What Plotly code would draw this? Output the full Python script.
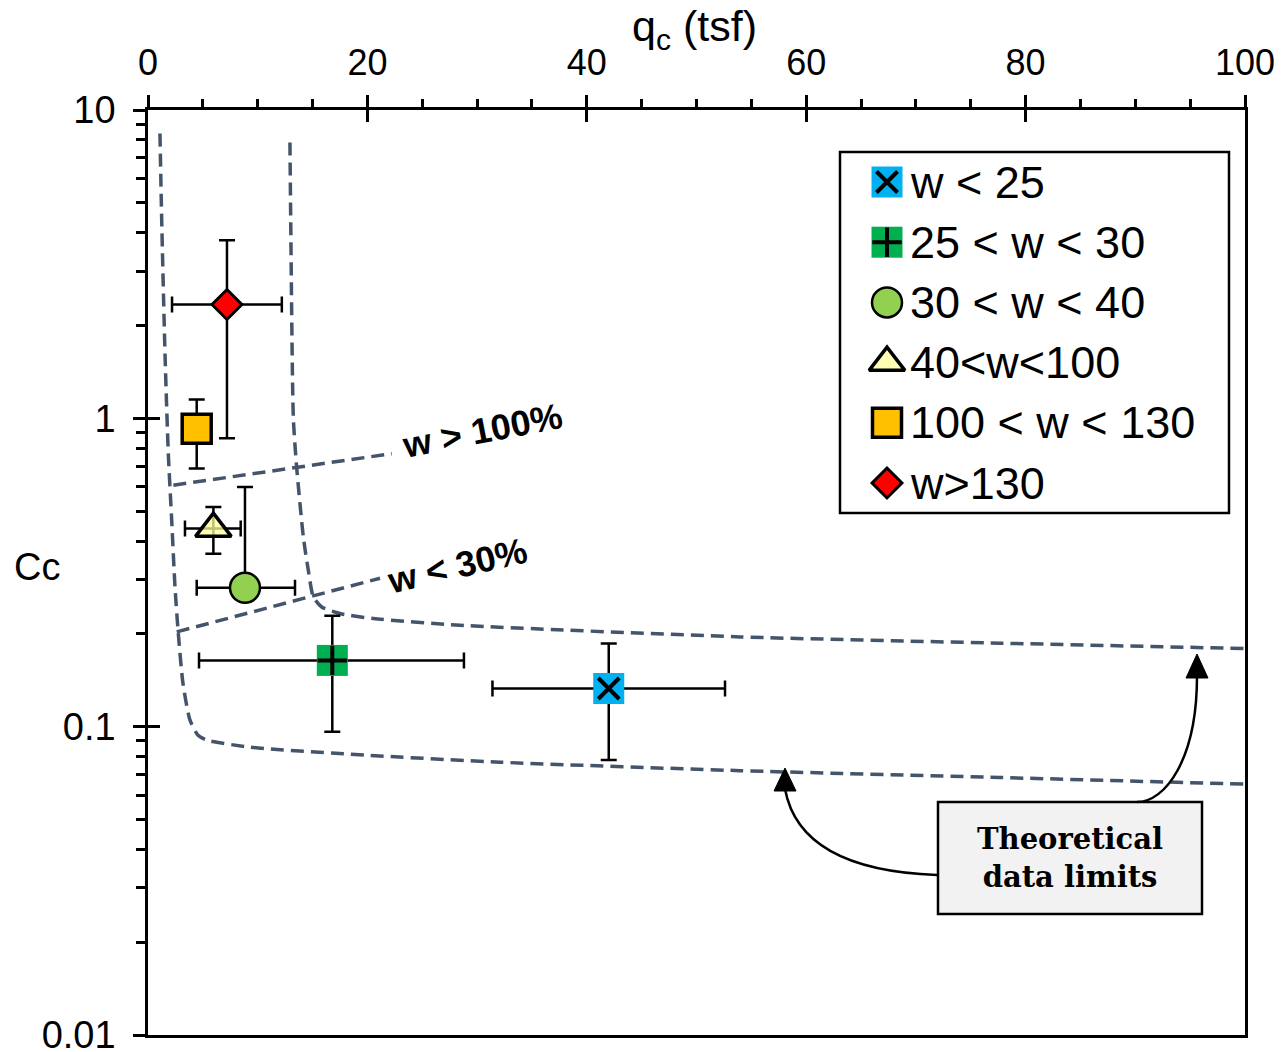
import plotly.graph_objects as go

# ---------------- data ----------------
categories = ["w < 25", "25 < w < 30", "30 < w < 40", "40<w<100", "100 < w < 130", "w>130"]
qc_mean = [42.0, 16.8, 8.84, 5.96, 4.44, 7.2]
qc_low = [31.4, 4.65, 4.44, 3.37, None, 2.19]
qc_high = [52.6, 28.8, 13.4, 8.45, None, 12.2]
cc_mean = [0.133, 0.164, 0.282, 0.439, 0.926, 2.34]
cc_low = [0.0779, 0.0962, 0.26, 0.364, 0.687, 0.861]
cc_high = [0.186, 0.229, 0.599, 0.516, 1.15, 3.78]

# theoretical limit curves
outer_qc = [1.09, 1.25, 1.55, 1.85, 2.16, 2.46, 2.76, 3.19, 3.83, 4.56, 5.38, 9.30, 19.96, 32.09, 53.97, 77.67, 100]
outer_cc = [8.39, 4.38, 1.62, 0.770, 0.467, 0.284, 0.201, 0.138, 0.105, 0.0938, 0.0904, 0.0858, 0.0808, 0.0767, 0.0720, 0.0684, 0.0651]
inner_qc = [12.94, 13.01, 13.25, 13.55, 14.16, 14.61, 15.07, 15.83, 17.50, 20.54, 28.44, 53.97, 77.67, 100]
inner_cc = [7.85, 4.38, 1.0, 0.695, 0.412, 0.322, 0.2635, 0.2445, 0.2328, 0.2242, 0.2133, 0.1955, 0.1866, 0.1792]
w100_qc = [2.31, 22.22]
w100_cc = [0.607, 0.768]
w30_qc = [2.62, 21.15]
w30_cc = [0.203, 0.303]

x_ticks = [0, 20, 40, 60, 80, 100]
y_ticks = [0.01, 0.1, 1, 10]
y_ticktext = ["0.01", "0.1", "1", "10"]
y_minor = [m * d for d in (0.01, 0.1, 1) for m in range(2, 10)]

# ---------------- styles ----------------
styles = [
    dict(symbol="square", size=31, color="#00b0f0", lw=0, lc="#00b0f0", over="x-thin-open", osize=21),
    dict(symbol="square", size=31, color="#00b050", lw=0, lc="#00b050", over="cross-thin-open", osize=21),
    dict(symbol="circle", size=30, color="#92d050", lw=2.5, lc="black", over=None, osize=0),
    dict(symbol="triangle-up", size=31, color="rgba(255,255,153,0.75)", lw=3.5, lc="black", over=None, osize=0),
    dict(symbol="square", size=29, color="#ffc000", lw=3.5, lc="black", over=None, osize=0),
    dict(symbol="diamond", size=23, color="#ff0000", lw=3, lc="black", over=None, osize=0),
]

PL, PR, PT, PB = 148, 1245, 110, 1035
W, H = 1287, 1052


def px(xp):
    return (xp - PL) / (PR - PL)


def py(yp):
    return (PB - yp) / (PB - PT)


fig = go.Figure()

dash_line = dict(color="#44546a", width=3.5, dash="13px,7px")
for xs, ys in [(outer_qc, outer_cc), (inner_qc, inner_cc), (w100_qc, w100_cc), (w30_qc, w30_cc)]:
    fig.add_trace(go.Scatter(x=xs, y=ys, mode="lines", line=dict(dash_line, shape="spline", smoothing=0.6),
                             showlegend=False, hoverinfo="skip"))

for i, name in enumerate(categories):
    st = styles[i]
    ex = None
    if qc_low[i] is not None:
        ex = dict(type="data", symmetric=False, array=[qc_high[i] - qc_mean[i]],
                  arrayminus=[qc_mean[i] - qc_low[i]], color="black", thickness=2.5, width=8)
    ey = dict(type="data", symmetric=False, array=[cc_high[i] - cc_mean[i]],
              arrayminus=[cc_mean[i] - cc_low[i]], color="black", thickness=2.5, width=8)
    fig.add_trace(go.Scatter(x=[qc_mean[i]], y=[cc_mean[i]], mode="markers", name=name,
                             error_x=ex if ex else dict(visible=False), error_y=ey,
                             marker=dict(symbol=st["symbol"], size=st["size"], color=st["color"],
                                         line=dict(width=st["lw"], color=st["lc"])),
                             showlegend=False))
    if st["over"]:
        fig.add_trace(go.Scatter(x=[qc_mean[i]], y=[cc_mean[i]], mode="markers",
                                 marker=dict(symbol=st["over"], size=st["osize"], color="black",
                                             line=dict(width=4, color="black")),
                                 showlegend=False, hoverinfo="skip"))

# dummy trace to activate the crossing-tick overlay axes
fig.add_trace(go.Scatter(x=[None], y=[None], xaxis="x2", yaxis="y2", showlegend=False))

# ---------------- manual legend (overlay axes in paper units) ----------------
leg_x = px(887)
leg_top = py(182)
leg_step = (py(182) - py(483)) / 5
for i, name in enumerate(categories):
    st = styles[i]
    yy = leg_top - i * leg_step
    fig.add_trace(go.Scatter(x=[leg_x], y=[yy], xaxis="x3", yaxis="y3", mode="markers",
                             marker=dict(symbol=st["symbol"], size=st["size"], color=st["color"],
                                         line=dict(width=st["lw"], color=st["lc"])),
                             showlegend=False, hoverinfo="skip", cliponaxis=False))
    if st["over"]:
        fig.add_trace(go.Scatter(x=[leg_x], y=[yy], xaxis="x3", yaxis="y3", mode="markers",
                                 marker=dict(symbol=st["over"], size=st["osize"], color="black",
                                             line=dict(width=4, color="black")),
                                 showlegend=False, hoverinfo="skip", cliponaxis=False))
    fig.add_annotation(x=px(908), y=yy, xref="paper", yref="paper", text=name, showarrow=False,
                       xanchor="left", yanchor="middle", font=dict(size=45, color="black"))

shapes = [
    dict(type="rect", xref="paper", yref="paper", x0=px(840), x1=px(1229), y0=py(513), y1=py(152),
         line=dict(color="black", width=2.5), fillcolor="rgba(0,0,0,0)", layer="above"),
    dict(type="rect", xref="paper", yref="paper", x0=px(938), x1=px(1202), y0=py(914), y1=py(802),
         line=dict(color="black", width=2.5), fillcolor="#f2f2f2", layer="above"),
    dict(type="path", xref="paper", yref="paper",
         path=f"M{px(937)},{py(875)} Q{px(800)},{py(870)} {px(785)},{py(789)}",
         line=dict(color="black", width=2.5)),
    dict(type="path", xref="paper", yref="paper",
         path=f"M{px(1137)},{py(802)} C{px(1165)},{py(802)} {px(1197)},{py(760)} {px(1197)},{py(676)}",
         line=dict(color="black", width=2.5)),
    dict(type="path", xref="paper", yref="paper",
         path=f"M{px(785)},{py(768)} L{px(774)},{py(791)} L{px(796)},{py(791)} Z",
         line=dict(color="black", width=1), fillcolor="black"),
    dict(type="path", xref="paper", yref="paper",
         path=f"M{px(1197)},{py(654)} L{px(1186)},{py(678)} L{px(1208)},{py(678)} Z",
         line=dict(color="black", width=1), fillcolor="black"),
]

annotations_extra = [
    dict(x=px(694), y=py(29), xref="paper", yref="paper", text="q<sub>c</sub> (tsf)", showarrow=False,
         xanchor="center", yanchor="middle", font=dict(size=43, color="black")),
    dict(x=px(37), y=py(567), xref="paper", yref="paper", text="Cc", showarrow=False,
         xanchor="center", yanchor="middle", font=dict(size=38, color="black")),
    dict(x=px(1070), y=py(858), xref="paper", yref="paper", text="<b>Theoretical<br>data limits</b>",
         showarrow=False, xanchor="center", yanchor="middle",
         font=dict(size=29, color="black", family="DejaVu Serif")),
    dict(x=px(482), y=py(430), xref="paper", yref="paper", text="<b>w > 100%</b>", showarrow=False,
         xanchor="center", yanchor="middle", textangle=-11, font=dict(size=36, color="black")),
    dict(x=px(457), y=py(565), xref="paper", yref="paper", text="<b>w < 30%</b>", showarrow=False,
         xanchor="center", yanchor="middle", textangle=-13, font=dict(size=36, color="black")),
]
for a in annotations_extra:
    fig.add_annotation(**a)

axis_common = dict(showgrid=False, zeroline=False, linecolor="black", linewidth=2.5,
                   tickcolor="black", tickwidth=2.5, automargin=False, ticklabeloverflow="allow")

fig.update_layout(
    width=W, height=H,
    margin=dict(l=PL, r=W - PR, t=PT, b=H - PB, autoexpand=False),
    paper_bgcolor="white", plot_bgcolor="white",
    font=dict(family="Arial, Liberation Sans, sans-serif", color="black"),
    showlegend=False,
    shapes=shapes,
    xaxis=dict(axis_common, side="top", range=[0, 100], tickvals=x_ticks, ticks="outside", ticklen=12,
               showline=True, mirror=True, tickfont=dict(size=36), ticklabelstandoff=6,
               minor=dict(dtick=5, tick0=0, ticks="outside", ticklen=8, tickwidth=2.5, tickcolor="black")),
    yaxis=dict(axis_common, type="log", range=[-2, 1], tickvals=y_ticks, ticktext=y_ticktext,
               ticks="outside", ticklen=12, showline=True, mirror=True, tickfont=dict(size=38),
               ticklabelstandoff=10,
               minor=dict(tickvals=y_minor, ticks="outside", ticklen=9, tickwidth=2.5, tickcolor="black")),
    xaxis2=dict(overlaying="x", side="top", range=[0, 100], tickvals=x_ticks, ticks="inside", ticklen=12,
                tickwidth=2.5, tickcolor="black", showticklabels=False, showline=False, showgrid=False,
                zeroline=False, anchor="y2", automargin=False),
    yaxis2=dict(overlaying="y", side="left", type="log", range=[-2, 1], tickvals=y_ticks, ticks="inside",
                ticklen=12, tickwidth=2.5, tickcolor="black", showticklabels=False, showline=False,
                showgrid=False, zeroline=False, anchor="x2", automargin=False),
    xaxis3=dict(overlaying="x", range=[0, 1], visible=False, anchor="y3"),
    yaxis3=dict(overlaying="y", range=[0, 1], visible=False, anchor="x3"),
)

# remove the default page margin so the figure sits at the window's top-left corner
fig.write_html("out.html", config={"displayModeBar": False},
               post_script="document.body.style.margin='0';document.body.style.overflow='hidden';")
